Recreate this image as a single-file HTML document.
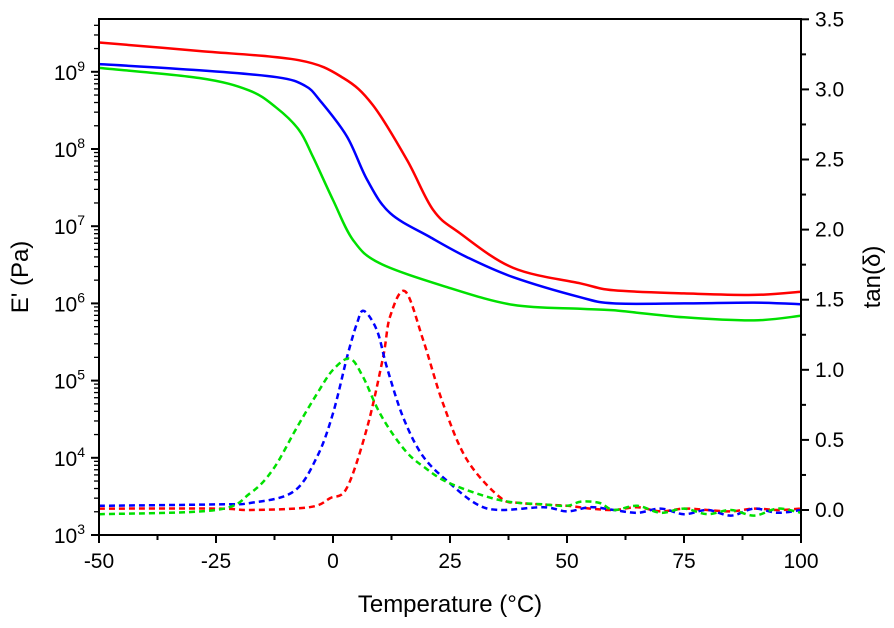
<!DOCTYPE html>
<html><head><meta charset="utf-8"><style>
body{margin:0;background:#fff;}
svg{display:block;font-family:"Liberation Sans",Arial,sans-serif;}
</style></head><body>
<svg id="chart" width="894" height="628" viewBox="0 0 894 628"></svg>
<script>
const redT      = [-50,-28.6,-7.3,2.2,8.5,15.8,21.4,27.1,38.5,52.8,60,75,90,100];
const redLogE   = [9.38,9.27,9.15,8.92,8.57,7.86,7.21,6.91,6.46,6.26,6.17,6.13,6.11,6.15];
const blueT     = [-50,-28.6,-12,-6,-2.8,3,7.3,12.2,20.7,28.6,38.5,52.8,60,75,90,100];
const blueLogE  = [9.1,9.02,8.93,8.82,8.63,8.16,7.6,7.17,6.86,6.6,6.34,6.08,6.0,6.0,6.01,5.99];
const greenT    = [-50,-28.6,-18,-12.2,-7.3,-4.3,0,4.3,10,24.4,38.5,52.8,60,75,90,100];
const greenLogE = [9.05,8.92,8.76,8.54,8.25,7.9,7.34,6.82,6.52,6.21,5.98,5.93,5.91,5.82,5.78,5.84];

const redTanT  = [-50,-25,-17.7,-5,-0.6,3,7.3,10.7,12.2,15.4,19.3,23.5,28.6,35.7,40,50,55,60,65,70,75,80,85,90,95,100];
const redTan   = [0.01,0.01,0.0,0.02,0.085,0.16,0.59,1.09,1.38,1.56,1.21,0.76,0.36,0.09,0.05,0.03,0.01,0.0,0.02,-0.01,0.01,0.0,-0.01,0.01,0.0,0.01];
const blueTanT = [-50,-25,-17.7,-8.5,-3.4,0,3,5.1,6.6,9.4,11.5,15,19.3,25,30.8,35.7,45,50,55,60,65,70,75,80,85,90,95,100];
const blueTan  = [0.03,0.04,0.05,0.13,0.38,0.69,1.09,1.33,1.42,1.28,1.02,0.66,0.38,0.19,0.04,0.0,0.02,-0.01,0.02,0.0,-0.02,0.01,-0.03,0.0,-0.04,0.01,-0.02,0.0];
const greenTanT= [-50,-25,-17.7,-12.8,-7.7,-3.4,0,3.6,6.4,9.4,12.2,15.8,19.3,25,35.7,45,50,53,57,60,65,70,75,80,85,90,95,100];
const greenTan = [-0.03,0.0,0.12,0.29,0.59,0.83,1.0,1.08,0.95,0.73,0.57,0.41,0.31,0.19,0.07,0.04,0.03,0.06,0.05,0.0,0.03,-0.02,0.01,-0.03,0.0,-0.04,0.01,-0.02];

const xTicks = [-50,-25,0,25,50,75,100];
const leftTicks = [3,4,5,6,7,8,9];
const rightTicks = ["0.0","0.5","1.0","1.5","2.0","2.5","3.0","3.5"];

const L=99,R=801,T=19,B=535;
const X=t=>L+(t+50)*(R-L)/150;
const YL=v=>B-(v-3)*77.2;
const YR=v=>510-v*140.2;
const svg=document.getElementById('chart');
const NS='http://www.w3.org/2000/svg';
function mk(tag,attrs,parent){const e=document.createElementNS(NS,tag);for(const k in attrs)e.setAttribute(k,attrs[k]);(parent||svg).appendChild(e);return e;}

function smoothPath(pts){
  let d='M'+pts[0][0].toFixed(1)+','+pts[0][1].toFixed(1);
  for(let i=0;i<pts.length-1;i++){
    const p0=pts[Math.max(0,i-1)],p1=pts[i],p2=pts[i+1],p3=pts[Math.min(pts.length-1,i+2)];
    const c1=[p1[0]+(p2[0]-p0[0])/6,p1[1]+(p2[1]-p0[1])/6];
    const c2=[p2[0]-(p3[0]-p1[0])/6,p2[1]-(p3[1]-p1[1])/6];
    d+='C'+c1[0].toFixed(1)+','+c1[1].toFixed(1)+' '+c2[0].toFixed(1)+','+c2[1].toFixed(1)+' '+p2[0].toFixed(1)+','+p2[1].toFixed(1);
  }
  return d;
}
function line(xs,ys,yf,color,dash,name){
  const pts=xs.map((t,i)=>[X(t),yf(ys[i])]);
  const p=mk('path',{d:smoothPath(pts),fill:'none',stroke:color,'stroke-width':2.5,'stroke-linejoin':'round'});
  if(dash)p.setAttribute('stroke-dasharray','6,4');
  
  
}
line(redT,redLogE,YL,'#ff0000',false,'red-modulus-line');
line(blueT,blueLogE,YL,'#0000ff',false,'blue-modulus-line');
line(greenT,greenLogE,YL,'#00e000',false,'green-modulus-line');
line(redTanT,redTan,YR,'#ff0000',true,'red-tan-delta-line');
line(blueTanT,blueTan,YR,'#0000ff',true,'blue-tan-delta-line');
line(greenTanT,greenTan,YR,'#00e000',true,'green-tan-delta-line');

const fr=mk('rect',{x:L,y:T,width:R-L,height:B-T,fill:'none',stroke:'#000','stroke-width':2});



xTicks.forEach((t,i)=>{
  mk('line',{x1:X(t),x2:X(t),y1:B,y2:B+8,stroke:'#000','stroke-width':2});
  if(i<xTicks.length-1)mk('line',{x1:X(t+12.5),x2:X(t+12.5),y1:B,y2:B+5,stroke:'#000','stroke-width':2});
  const tx=mk('text',{x:X(t),y:B+33,'text-anchor':'middle','font-size':21});
  tx.textContent=t;
  
  
});
leftTicks.forEach((p,i)=>{
  mk('line',{x1:L-8,x2:L,y1:YL(p),y2:YL(p),stroke:'#000','stroke-width':2});
  for(let m=2;m<=9;m++){const v=p+Math.log10(m);if(YL(v)>=T)mk('line',{x1:L-5,x2:L,y1:YL(v),y2:YL(v),stroke:'#000','stroke-width':1.3});}
  const tx=mk('text',{x:L-14,y:YL(p)+8,'text-anchor':'end','font-size':21});
  tx.innerHTML='10<tspan dy="-9" font-size="14">'+p+'</tspan>';
  
  
});
rightTicks.forEach((s,i)=>{
  const v=parseFloat(s);
  mk('line',{x1:R,x2:R+8,y1:YR(v),y2:YR(v),stroke:'#000','stroke-width':2});
  if(v<3.5)mk('line',{x1:R,x2:R+5,y1:YR(v+0.25),y2:YR(v+0.25),stroke:'#000','stroke-width':2});
  const tx=mk('text',{x:R+14,y:YR(v)+7,'font-size':21});
  tx.textContent=s;
  
  
});

const xt=mk('text',{x:450,y:612,'text-anchor':'middle','font-size':24});
xt.textContent='Temperature (°C)';


const yt=mk('text',{x:0,y:0,'text-anchor':'middle','font-size':24,transform:'translate(28,277) rotate(-90)'});
yt.textContent="E' (Pa)";


const yr=mk('text',{x:0,y:0,'text-anchor':'middle','font-size':24,transform:'translate(880,277) rotate(-90)'});
yr.textContent='tan(δ)';


</script>
</body></html>
